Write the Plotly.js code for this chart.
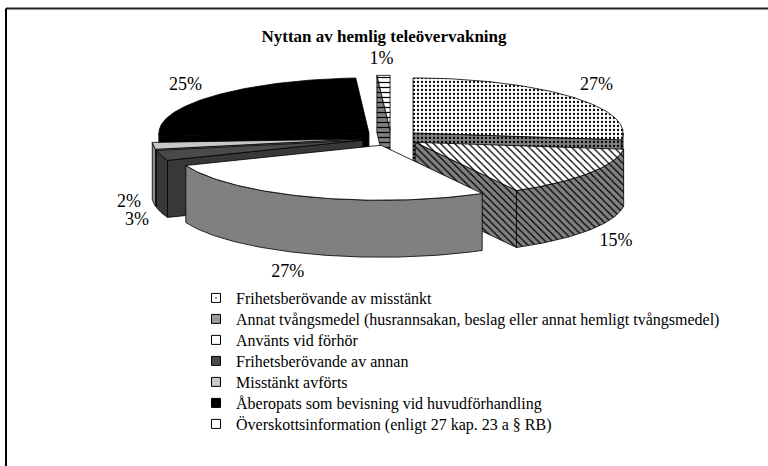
<!DOCTYPE html>
<html>
<head>
<meta charset="utf-8">
<script src="https://cdn.plot.ly/plotly-3.0.1.min.js"></script>
<style>html,body{margin:0;padding:0;background:#fff;}#chart{width:768px;height:466px;}</style>
</head>
<body>
<div id="chart"></div>
<script>
// ---- data ----
const chartTitle = 'Nyttan av hemlig teleövervakning';
const categories = [
  'Frihetsberövande av misstänkt',
  'Annat tvångsmedel (husrannsakan, beslag eller annat hemligt tvångsmedel)',
  'Använts vid förhör',
  'Frihetsberövande av annan',
  'Misstänkt avförts',
  'Åberopats som bevisning vid huvudförhandling',
  'Överskottsinformation (enligt 27 kap. 23 a § RB)'
];
const values = [27, 15, 27, 3, 2, 25, 1];

// ---- styles ----
const topColors  = ['#ffffff', '#ffffff', '#ffffff', '#4a4a4a', '#c8c8c8', '#000000', '#ffffff'];
const sideColors = ['#808080', '#808080', '#808080', '#383838', '#8c8c8c', '#000000', '#808080'];
const patterns   = ['.', '\\', '', '', '', '', '-'];
const legendSymbols = ['square-open-dot', 'square', 'square', 'square', 'square', 'square', 'square-open'];
const legendColors  = ['#000000', '#9a9a9a', '#ffffff', '#4a4a4a', '#c8c8c8', '#000000', '#000000'];

// ---- 3D pie geometry (in axis units = pixels) ----
const cx = 391, cy = 138, rx = 210, ry = 55, depth = 57, explode = 0.14;
const rad = Math.PI / 180;
const total = values.reduce((s, v) => s + v, 0);

const slices = [];
let acc = 0;
values.forEach((v, i) => {
  const a = acc / total * 360;
  acc += v;
  const b = acc / total * 360;
  const m = (a + b) / 2;
  const ox = explode * rx * Math.sin(m * rad);
  const oy = -explode * ry * Math.cos(m * rad);
  slices.push({i, a, b, m, ox, oy});
});

function pt(s, th, z) {
  return [cx + s.ox + rx * Math.sin(th * rad), cy + s.oy - ry * Math.cos(th * rad) + z];
}
function arc(s, t1, t2, z) {
  const pts = [];
  const n = Math.max(2, Math.ceil(Math.abs(t2 - t1)));
  for (let k = 0; k <= n; k++) pts.push(pt(s, t1 + (t2 - t1) * k / n, z));
  return pts;
}
function poly(pts, fill, pattern) {
  const tr = {
    type: 'scatter', mode: 'lines',
    x: pts.map(p => p[0]).concat([pts[0][0]]),
    y: pts.map(p => p[1]).concat([pts[0][1]]),
    fill: 'toself', fillcolor: fill,
    line: {color: '#000000', width: 0.8},
    hoverinfo: 'skip', showlegend: false
  };
  if (pattern) tr.fillpattern = {shape: pattern, fgcolor: '#000000', bgcolor: fill, size: pattern === '.' ? 4 : 5, solidity: 0.25};
  return tr;
}

const traces = [];
const order = slices.slice().sort((p, q) => Math.cos(q.m * rad) - Math.cos(p.m * rad));
order.forEach(s => {
  const apex = [cx + s.ox, cy + s.oy];
  const apexB = [apex[0], apex[1] + depth];
  const side = sideColors[s.i], pat = patterns[s.i];
  if (Math.sin(s.a * rad) < -1e-6) {
    traces.push(poly([apex, pt(s, s.a, 0), pt(s, s.a, depth), apexB], side, pat));
  }
  if (Math.sin(s.b * rad) > 1e-6) {
    traces.push(poly([apex, pt(s, s.b, 0), pt(s, s.b, depth), apexB], side, pat));
  }
  const t1 = Math.max(s.a, 90), t2 = Math.min(s.b, 270);
  if (t2 > t1) {
    traces.push(poly(arc(s, t1, t2, 0).concat(arc(s, t2, t1, depth)), side, pat));
  }
  traces.push(poly([apex].concat(arc(s, s.a, s.b, 0)), topColors[s.i], pat));
});

// labels
const labs = slices.map(s => {
  const sn = Math.sin(s.m * rad), cs = Math.cos(s.m * rad);
  const side = sn > 0.5 ? 'middle right' : (sn < -0.5 ? 'middle left' : 'middle center');
  return {
    x: cx + rx * (side === 'middle center' ? 1.45 : 1.2) * sn,
    y: cy - (ry * (1 + explode) + 16) * cs + (cs < 0 ? depth - 4 * cs : 0),
    t: values[s.i] + '%', p: side
  };
});
// simple collision avoidance between neighbouring labels
const minGap = 18;
for (let k = 0; k < labs.length; k++) {
  for (let j = k + 1; j < labs.length; j++) {
    const A = labs[k], B = labs[j];
    if (Math.abs(A.x - B.x) < 30 && Math.abs(A.y - B.y) < minGap) {
      const push = (minGap - Math.abs(A.y - B.y)) / 2;
      if (A.y <= B.y) { A.y -= push; B.y += push; } else { A.y += push; B.y -= push; }
    }
  }
}
traces.push({
  type: 'scatter', mode: 'text',
  x: labs.map(l => l.x), y: labs.map(l => l.y), text: labs.map(l => l.t), textposition: labs.map(l => l.p),
  textfont: {family: 'Liberation Serif', size: 18, color: '#000000'},
  hoverinfo: 'skip', showlegend: false
});

const layout = {
  width: 768, height: 466,
  margin: {l: 0, r: 0, t: 0, b: 0},
  paper_bgcolor: '#ffffff', plot_bgcolor: '#ffffff',
  xaxis: {range: [0, 768], visible: false, fixedrange: true},
  yaxis: {range: [466, 0], visible: false, fixedrange: true},
  title: {
    text: '<b>' + chartTitle + '</b>',
    font: {family: 'Liberation Serif', size: 17, color: '#000000'},
    x: 0.5, xanchor: 'center', xref: 'paper', y: 1 - 36 / 466, yanchor: 'middle', yref: 'container'
  },
  showlegend: true,
  shapes: [
    {type: 'line', xref: 'paper', yref: 'paper', x0: 6 / 768, x1: 1, y0: 1 - 8.5 / 466, y1: 1 - 8.5 / 466, line: {color: '#222222', width: 2}},
    {type: 'line', xref: 'paper', yref: 'paper', x0: 6 / 768, x1: 6 / 768, y0: 0, y1: 1 - 8.5 / 466, line: {color: '#000000', width: 2}}
  ]
};
// legend entries (one legend per row for exact row spacing)
categories.forEach((c, i) => {
  const key = i === 0 ? 'legend' : 'legend' + (i + 1);
  traces.push({
    type: 'scatter', mode: 'markers', x: [null], y: [null], name: c,
    legend: key,
    marker: {symbol: legendSymbols[i], size: 9, color: legendColors[i], line: {color: '#000000', width: 1}},
    showlegend: true, hoverinfo: 'skip'
  });
  layout[key] = {
    x: 196 / 768, xanchor: 'left', y: 1 - (298 + 21 * i) / 466, yanchor: 'middle',
    font: {family: 'Liberation Serif', size: 16, color: '#000000'},
    bgcolor: 'rgba(0,0,0,0)', itemwidth: 30
  };
});

Plotly.newPlot('chart', traces, layout, {displayModeBar: false, staticPlot: true});
</script>
</body>
</html>
